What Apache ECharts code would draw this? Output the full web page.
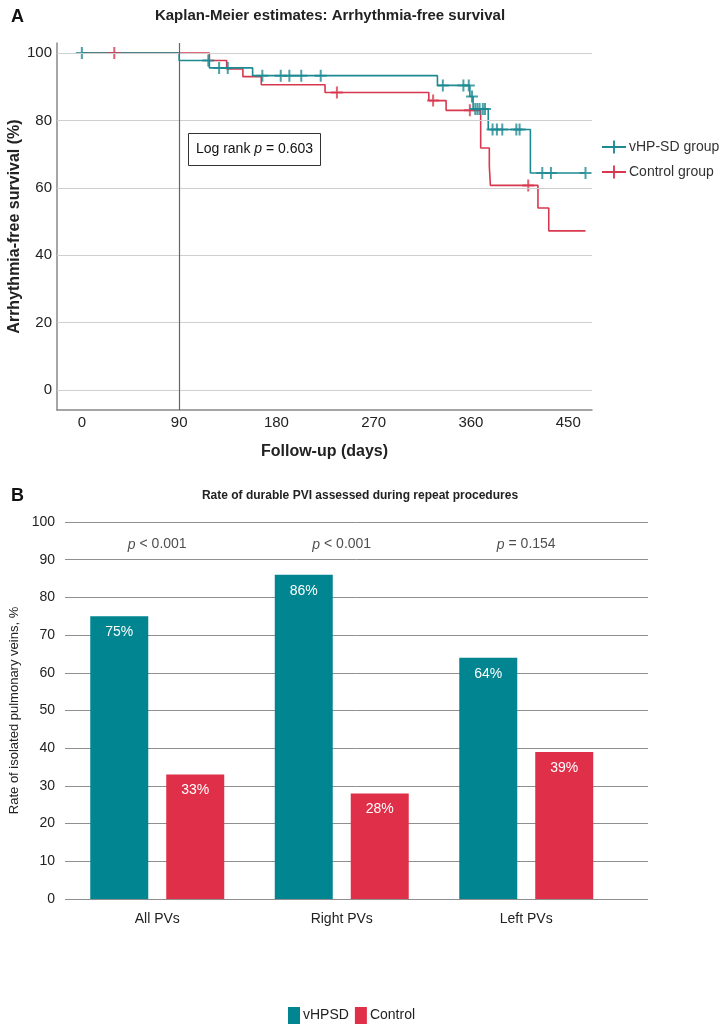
<!DOCTYPE html>
<html><head><meta charset="utf-8">
<script src="https://cdn.jsdelivr.net/npm/echarts@6/dist/echarts.min.js"></script>
<style>html,body{margin:0;padding:0;background:#fff}#c{width:721px;height:1024px}</style>
</head><body><div id="c"></div>
<script>
// ---------- Panel A: Kaplan-Meier ----------
const kmXTicks = [0, 90, 180, 270, 360, 450];
const kmYTicks = [0, 20, 40, 60, 80, 100];
// step points: [day, survival % after event]
const vhpsdSteps = [[0,100],[90,97.8],[118,95.6],[158,93.3],[329,90.4],[359,87.1],[362,83.4],[376,77.3],[415,64.4],[466,64.4]];
const controlSteps = [[0,100],[118,97.8],[134,95.3],[149,93.0],[166,90.6],[225,88.3],[321,85.9],[337,83.0],[369,71.8],[377,66.4],[378,60.7],[422,54.0],[432,47.2],[466,47.2]];
// censored observations
const vhpsdCensored = [[0,100],[117,97.8],[127,95.6],[135,95.6],[167,93.3],[184,93.3],[192,93.3],[203,93.3],[221,93.3],[334,90.4],[353,90.4],[358,90.4],[361,87.1],[364,83.4],[366,83.4],[368,83.4],[371,83.4],[373,83.4],[380,77.3],[384,77.3],[389,77.3],[402,77.3],[405,77.3],[426,64.4],[434,64.4],[466,64.4]];
const controlCensored = [[30,100],[236,88.3],[325,85.9],[359,83.0],[413,60.7]];
const kmNames = ['vHP-SD group', 'Control group'];
const logRankText = '0.603';

// ---------- Panel B: bars ----------
const pvCategories = ['All PVs', 'Right PVs', 'Left PVs'];
const vhpsdRates = [75, 86, 64];
const controlRates = [33, 28, 39];
const pValues = ['< 0.001', '< 0.001', '= 0.154'];
const barYTicksMax = 100;
const barNames = ['vHPSD', 'Control'];

const TEAL = '#1d8a92', RED = '#d8384f';
const BTEAL = '#008591', BRED = '#e02f48';
const F1 = 'Liberation Sans, Arial, sans-serif';
const plus = 'path://M5,0h2v12h-2zM0,5h12v2h-12z';

const chart = echarts.init(document.getElementById('c'), null, {renderer: 'canvas'});
chart.setOption({
  animation: false,
  textStyle: {fontFamily: F1},
  title: [
    {text: 'A', left: 6, top: 3, textStyle: {fontFamily: F1, fontSize: 18, fontWeight: 'bold', color: '#111'}},
    {text: 'Kaplan-Meier estimates: Arrhythmia-free survival', left: 325, textAlign: 'center', top: 3, textStyle: {fontFamily: F1, fontSize: 15, fontWeight: 'bold', color: '#222'}},
    {text: 'B', left: 6, top: 482, textStyle: {fontFamily: F1, fontSize: 18, fontWeight: 'bold', color: '#111'}},
    {text: 'Rate of durable PVI assessed during repeat procedures', left: 355, textAlign: 'center', top: 485, textStyle: {fontFamily: F1, fontSize: 12, fontWeight: 'bold', color: '#222'}}
  ],
  legend: [
    {data: kmNames.map(n => ({name: n, icon: 'path://M0,6h26v2H0zM12,0h2v14h-2z'})),
     orient: 'vertical', left: 597, top: 135, itemWidth: 24, itemHeight: 14, itemGap: 11,
     textStyle: {fontFamily: F1, fontSize: 14, color: '#333', padding: [0,0,0,-2]}},
    {data: barNames, left: 283, top: 1002, itemWidth: 12, itemHeight: 17, itemGap: 6, icon: 'rect',
     textStyle: {fontFamily: F1, fontSize: 14, color: '#222', padding: [0,0,0,-2]}}
  ],
  grid: [
    {left: 57, right: 129, top: 43, bottom: 614, outerBoundsMode: 'none', containLabel: false},
    {left: 65, right: 73, top: 522, bottom: 125, outerBoundsMode: 'none', containLabel: false},
    {left: 65, right: 102.5, top: 522, bottom: 125, outerBoundsMode: 'none', containLabel: false}
  ],
  xAxis: [
    {type: 'value', gridIndex: 0, min: -23, max: 472,
     axisLine: {show: true, onZero: false, lineStyle: {color: '#888', width: 1.5}},
     axisTick: {show: false, customValues: kmXTicks},
     axisLabel: {customValues: kmXTicks, fontSize: 15, color: '#222', margin: 5, fontFamily: F1},
     splitLine: {show: false},
     name: 'Follow-up (days)', nameLocation: 'middle', nameGap: 34,
     nameTextStyle: {fontFamily: F1, fontSize: 16, fontWeight: 'bold', color: '#222'}},
    {type: 'category', gridIndex: 1, data: pvCategories, show: false},
    {type: 'category', gridIndex: 2, data: pvCategories,
     axisLine: {show: false}, axisTick: {show: false},
     axisLabel: {fontFamily: F1, fontSize: 14, color: '#222', margin: 13}}
  ],
  yAxis: [
    {type: 'value', gridIndex: 0, min: -6, max: 103,
     axisLine: {show: true, onZero: false, lineStyle: {color: '#888', width: 1.5}},
     axisTick: {show: false, customValues: kmYTicks},
     axisLabel: {customValues: kmYTicks, fontSize: 15, color: '#222', margin: 5, fontFamily: F1},
     splitLine: {show: false},
     name: 'Arrhythmia-free survival (%)', nameLocation: 'middle', nameGap: 34, nameRotate: 90,
     nameMoveOverlap: false,
     nameTextStyle: {fontFamily: F1, fontSize: 16, fontWeight: 'bold', color: '#222'}},
    {type: 'value', gridIndex: 1, min: 0, max: barYTicksMax, interval: 10,
     axisLine: {show: false}, axisTick: {show: false},
     axisLabel: {fontFamily: F1, fontSize: 14, color: '#222', margin: 10},
     splitLine: {show: true, lineStyle: {color: '#8f8f8f', width: 1}},
     name: 'Rate of isolated pulmonary veins, %', nameLocation: 'middle', nameGap: 44,
     nameTextStyle: {fontFamily: F1, fontSize: 13, color: '#222'}},
    {type: 'value', gridIndex: 2, min: 0, max: barYTicksMax, show: false}
  ],
  graphic: [
    {type: 'group', left: 188, top: 133, children: [
      {type: 'rect', shape: {x: 0, y: 0, width: 132, height: 32}, style: {fill: '#fff', stroke: '#333', lineWidth: 1}},
      {type: 'text', x: 66, y: 16, style: {
        text: '{n|Log rank }{i|p}{n| = ' + logRankText + '}', align: 'center', verticalAlign: 'middle',
        rich: {n: {fontFamily: F1, fontSize: 14, fill: '#111'}, i: {fontFamily: F1, fontSize: 14, fontStyle: 'italic', fill: '#111'}}}}
    ]}
  ],
  series: [
    {type: 'line', xAxisIndex: 0, yAxisIndex: 0, data: [], silent: true, z: 1,
     markLine: {silent: true, symbol: 'none', label: {show: false}, animation: false,
       data: kmYTicks.map(v => ({yAxis: v, lineStyle: {color: '#cfcfcf', width: 1.2, type: 'solid'}}))
         .concat([{xAxis: 90, lineStyle: {color: '#666', width: 1.2, type: 'solid'}}])}},
    {name: kmNames[0], type: 'line', xAxisIndex: 0, yAxisIndex: 0, step: 'end', data: vhpsdSteps,
     showSymbol: false, symbol: 'none', lineStyle: {color: TEAL, width: 1.6}, itemStyle: {color: TEAL}, z: 3},
    {name: kmNames[1], type: 'line', xAxisIndex: 0, yAxisIndex: 0, step: 'end', data: controlSteps,
     showSymbol: false, symbol: 'none', lineStyle: {color: RED, width: 1.6}, itemStyle: {color: RED}, z: 2},
    {name: kmNames[0], type: 'scatter', xAxisIndex: 0, yAxisIndex: 0, data: vhpsdCensored,
     symbol: plus, symbolSize: [12, 12], itemStyle: {color: TEAL}, z: 4},
    {name: kmNames[1], type: 'scatter', xAxisIndex: 0, yAxisIndex: 0, data: controlCensored,
     symbol: plus, symbolSize: [12, 12], itemStyle: {color: RED}, z: 3},
    {name: barNames[0], type: 'bar', xAxisIndex: 2, yAxisIndex: 2, data: vhpsdRates,
     barWidth: 58, barGap: '31%', itemStyle: {color: BTEAL},
     label: {show: true, position: 'insideTop', distance: 9, formatter: '{c}%', color: '#fff', fontFamily: F1, fontSize: 14}},
    {name: barNames[1], type: 'bar', xAxisIndex: 2, yAxisIndex: 2, data: controlRates,
     barWidth: 58, barGap: '31%', itemStyle: {color: BRED},
     label: {show: true, position: 'insideTop', distance: 9, formatter: '{c}%', color: '#fff', fontFamily: F1, fontSize: 14}},
    {type: 'scatter', xAxisIndex: 2, yAxisIndex: 2, symbolSize: 0, silent: true,
     data: pValues.map((p, i) => [pvCategories[i], 94]),
     label: {show: true, position: 'inside',
       formatter: (d) => '{i|p}{n| ' + pValues[d.dataIndex] + '}',
       rich: {i: {fontFamily: F1, fontSize: 14, fontStyle: 'italic', color: '#222'}, n: {fontFamily: F1, fontSize: 14, color: '#222'}}}}
  ]
});
</script></body></html>
